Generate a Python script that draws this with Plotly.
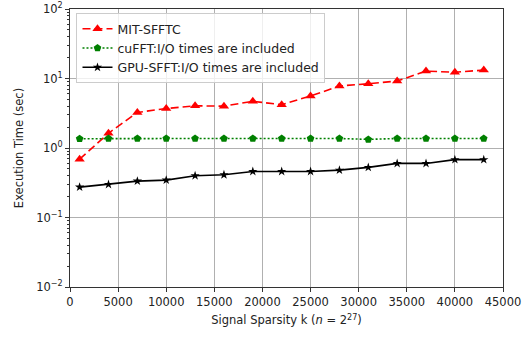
import plotly.graph_objects as go

sparsity_k = [1000, 4000, 7000, 10000, 13000, 16000, 19000, 22000, 25000,
              28000, 31000, 34000, 37000, 40000, 43000]
mit_sfftc = [0.69, 1.63, 3.25, 3.7, 4.05, 4.0, 4.7, 4.2, 5.6, 7.8, 8.4, 9.2,
             12.8, 12.3, 13.2]
cufft_io = [1.36, 1.37, 1.37, 1.37, 1.37, 1.37, 1.37, 1.37, 1.37, 1.37, 1.33,
            1.37, 1.37, 1.37, 1.37]
gpu_sfft_io = [0.274, 0.299, 0.334, 0.345, 0.399, 0.412, 0.46, 0.46, 0.46,
               0.48, 0.526, 0.60, 0.60, 0.68, 0.68]

y_tick_vals = [0.01, 0.1, 1, 10, 100]
y_tick_text = ["10<sup>\u22122</sup>", "10<sup>\u22121</sup>", "10<sup>0</sup>",
               "10<sup>1</sup>", "10<sup>2</sup>"]
y_minor_vals = [m * 10 ** e for e in range(-2, 2) for m in range(2, 10)]
x_tick_vals = list(range(0, 45001, 5000))
x_tick_text = [str(v) for v in x_tick_vals]

font = "DejaVu Sans, sans-serif"
text_color = "#222222"

fig = go.Figure()
fig.add_trace(go.Scatter(
    x=sparsity_k, y=mit_sfftc, name="MIT-SFFTC", mode="lines+markers",
    line=dict(color="red", width=1.6, dash="8px,4px"),
    marker=dict(symbol="triangle-up", size=9, color="red"),
))
fig.add_trace(go.Scatter(
    x=sparsity_k, y=cufft_io, name="cuFFT:I/O times are included",
    mode="lines+markers",
    line=dict(color="green", width=1.6, dash="2px,2px"),
    marker=dict(symbol="pentagon", size=8, color="green"),
))
fig.add_trace(go.Scatter(
    x=sparsity_k, y=gpu_sfft_io, name="GPU-SFFT:I/O times are included",
    mode="lines+markers",
    line=dict(color="black", width=1.6),
    marker=dict(symbol="star", size=7, color="black"),
))

axis_common = dict(
    showline=True, linecolor="#333333", linewidth=1, mirror=True,
    ticks="outside", ticklen=4, tickcolor="#333333",
    showgrid=True, gridcolor="#b0b0b0", gridwidth=1, automargin=False,
    zeroline=False, tickfont=dict(family=font, size=11.5, color=text_color),
)

fig.update_xaxes(
    range=[0, 45000], tickvals=x_tick_vals, ticktext=x_tick_text,
    title=dict(text="Signal Sparsity k (<i>n</i> = 2<sup>27</sup>)",
               font=dict(family=font, size=11.5, color=text_color), standoff=8),
    **axis_common,
)
fig.update_yaxes(
    type="log", range=[-2, 2], tickvals=y_tick_vals, ticktext=y_tick_text,
    title=dict(text="Execution Time (sec)",
               font=dict(family=font, size=11.5, color=text_color), standoff=10),
    minor=dict(tickvals=y_minor_vals, ticks="outside", ticklen=2,
               tickcolor="#333333", tickwidth=1, showgrid=False),
    **axis_common,
)

fig.update_layout(
    width=527, height=337,
    margin=dict(l=70, r=24, t=9, b=50),
    plot_bgcolor="white", paper_bgcolor="white",
    font=dict(family=font, size=12, color=text_color),
    legend=dict(
        x=0.015, y=0.985, xanchor="left", yanchor="top",
        bgcolor="rgba(255,255,255,0.8)", bordercolor="#cccccc", borderwidth=1,
        font=dict(family=font, size=12.5, color=text_color),
        tracegroupgap=0, itemwidth=30,
    ),
)

fig.write_html("out.html")
